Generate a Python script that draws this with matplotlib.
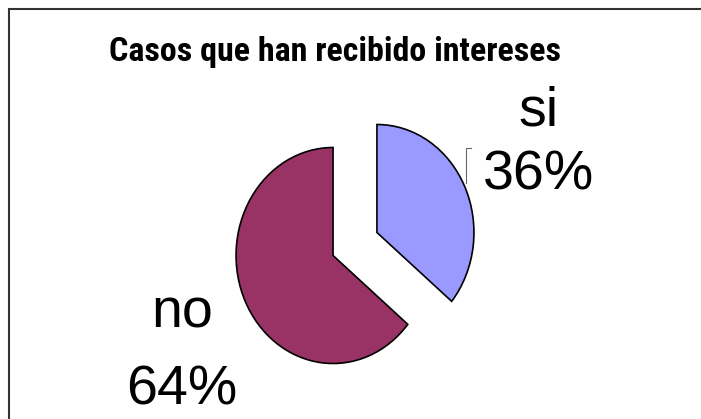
import matplotlib.pyplot as plt
from matplotlib.patches import Rectangle

labels = ['si', 'no']
values = [36, 64]
colors = ['#9999FF', '#993366']
explode = [0.25, 0.25]
title = 'Casos que han recibido intereses'

W, H = 701, 419
fig = plt.figure(figsize=(W / 100, H / 100), dpi=100)

# frame (cut off at right and bottom like the original)
fig.patches.append(Rectangle((9 / W, -0.1), 1.1, 1 - 9 / H + 0.1, transform=fig.transFigure,
                             fill=False, edgecolor='#333333', linewidth=1.5))

fig.text(335 / W, 1 - 52 / H, title, ha='center', va='center', fontsize=24.5,
         fontweight='bold', family='Roboto Condensed')

# pie is slightly taller than wide -> non-equal aspect
ax = fig.add_axes([209.5 / W, 13 / H, 291 / W, 324 / H])
wedges, _ = ax.pie(values, colors=colors, explode=explode, startangle=90, counterclock=False,
                   wedgeprops=dict(edgecolor='black', linewidth=1.2))
ax.set_xlim(-1.5, 1.5)
ax.set_ylim(-1.5, 1.5)
ax.set_aspect('auto')
ax.axis('off')

lab_font = dict(fontsize=40, family='Liberation Sans', ha='center', va='center')
label_pos = {'si': (538, 112, 175), 'no': (182, 313, 390)}
for lab, v in zip(labels, values):
    x, y1, y2 = label_pos[lab]
    fig.text(x / W, 1 - y1 / H, lab, **lab_font)
    fig.text(x / W, 1 - y2 / H, f'{v}%', **lab_font)

# leader line for "si"
fig.lines.append(plt.Line2D([471 / W, 466 / W, 466 / W], [1 - 148 / H, 1 - 148 / H, 1 - 183 / H],
                            transform=fig.transFigure, color='#666666', linewidth=0.8))

fig.savefig('out.png', dpi=100)
